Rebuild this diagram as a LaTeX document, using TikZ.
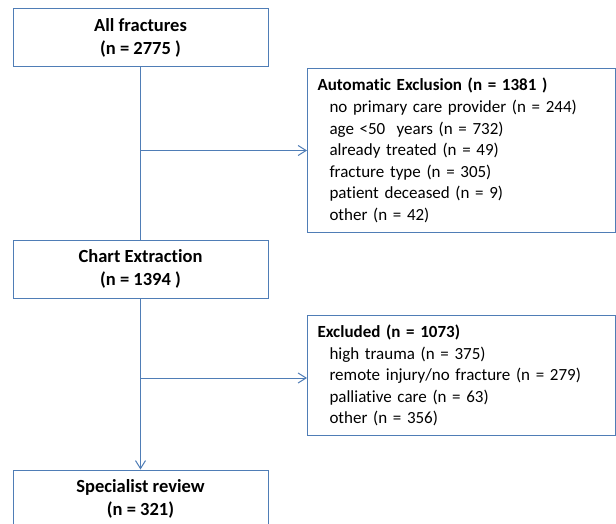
\documentclass[tikz,border=0pt]{standalone}
\usepackage{fontspec}
\setmainfont{Carlito}[Ligatures=NoCommon]
\usetikzlibrary{arrows.meta,positioning}
\definecolor{boxblue}{RGB}{79,125,182}

\begin{document}
\begin{tikzpicture}[x=1pt,y=-1pt,
    >={Straight Barb[length=8pt,width=10pt]},
    box/.style={draw=boxblue, line width=1pt, minimum width=255pt, minimum height=58pt,
        inner sep=0pt, align=center, font=\fontsize{18.5}{23}\selectfont\bfseries},
    exclbox/.style={draw=boxblue, line width=1pt, anchor=north west, inner xsep=10pt,
        inner ysep=0pt, text width=288pt, align=left, font=\fontsize{17}{21.6}\selectfont},
    flow/.style={draw=boxblue, line width=1pt}]
    \clip (0,0) rectangle (616,524);
    \node [box]                              (all)   at (140.5,37.5) {All fractures\\(n = 2775 )};
    \node [box]                              (chart) at (140.5,269)  {Chart Extraction\\(n = 1394 )};
    \node [box]                              (spec)  at (140.5,499)  {Specialist review\\(n = 321)};
    \node [exclbox, minimum height=164pt]    (auto)  at (307,68) {\textbf{Automatic Exclusion (n = 1381 )}\\
        \hspace*{12pt}no primary care provider (n = 244)\\
        \hspace*{12pt}age <50~ years (n = 732)\\
        \hspace*{12pt}already treated (n = 49)\\
        \hspace*{12pt}fracture type (n = 305)\\
        \hspace*{12pt}patient deceased (n = 9)\\
        \hspace*{12pt}other (n = 42)};
    \node [exclbox, minimum height=120pt]    (excl)  at (307,315) {\textbf{Excluded (n = 1073)}\\
        \hspace*{12pt}high trauma (n = 375)\\
        \hspace*{12pt}remote injury/no fracture (n = 279)\\
        \hspace*{12pt}palliative care (n = 63)\\
        \hspace*{12pt}other (n = 356)};
    \coordinate (s1) at (all.south |- auto.west);
    \coordinate (s2) at (140.5,378);
    \coordinate (e2) at (excl.west |- s2);
    \draw [flow] (all) -- (chart);
    \draw [flow, ->] (chart) -- (spec);
    \draw [flow, ->] (s1) -- (auto.west);
    \draw [flow, ->] (s2) -- (e2);
\end{tikzpicture}
\end{document}
